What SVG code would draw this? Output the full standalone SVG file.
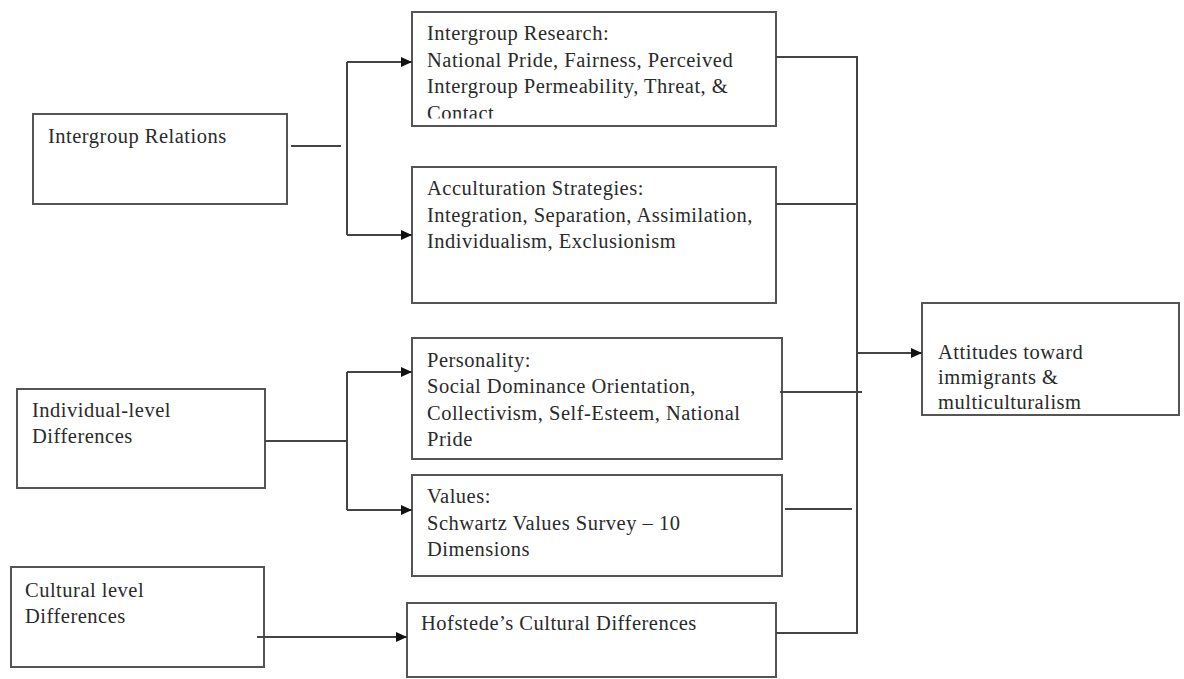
<svg xmlns="http://www.w3.org/2000/svg" width="1184" height="679" viewBox="0 0 1184 679">
<style>
.box{fill:#fff;stroke:#555;stroke-width:2}
.t{font-family:"Liberation Serif","Times New Roman",serif;font-size:20.5px;letter-spacing:0.5px;fill:#2a2a2a}
.c{fill:none;stroke:#444;stroke-width:2}
</style>
<defs>
<marker id="arr" markerUnits="userSpaceOnUse" markerWidth="11" markerHeight="10" refX="11" refY="5" orient="auto">
<path d="M0,0 L11,5 L0,10 z" fill="#111"/>
</marker>
<clipPath id="clipIR"><rect x="412" y="12" width="364" height="106.5"/></clipPath>
</defs>
<rect width="1184" height="679" fill="#fff"/>

<g id="intergroup-relations">
<rect class="box" x="33" y="114" width="254" height="90"/>
<text class="t" x="48" y="143">Intergroup Relations</text>
</g>

<g id="intergroup-research">
<rect class="box" x="412" y="12" width="364" height="114"/>
<text class="t" clip-path="url(#clipIR)"><tspan x="427" y="40">Intergroup Research:</tspan><tspan x="427" y="67">National Pride, Fairness, Perceived</tspan><tspan x="427" y="93">Intergroup Permeability, Threat, &amp;</tspan><tspan x="427" y="120">Contact</tspan></text>
</g>

<g id="acculturation">
<rect class="box" x="412" y="167" width="364" height="136"/>
<text class="t"><tspan x="427" y="195">Acculturation Strategies:</tspan><tspan x="427" y="222">Integration, Separation, Assimilation,</tspan><tspan x="427" y="248">Individualism, Exclusionism</tspan></text>
</g>

<g id="individual-level">
<rect class="box" x="17" y="389" width="248" height="99"/>
<text class="t"><tspan x="32" y="417">Individual-level</tspan><tspan x="32" y="443">Differences</tspan></text>
</g>

<g id="personality">
<rect class="box" x="412" y="338" width="370" height="121"/>
<text class="t"><tspan x="427" y="367">Personality:</tspan><tspan x="427" y="393">Social Dominance Orientation,</tspan><tspan x="427" y="420">Collectivism, Self-Esteem, National</tspan><tspan x="427" y="446">Pride</tspan></text>
</g>

<g id="values">
<rect class="box" x="412" y="475" width="370" height="101"/>
<text class="t"><tspan x="427" y="503">Values:</tspan><tspan x="427" y="530">Schwartz Values Survey – 10</tspan><tspan x="427" y="556">Dimensions</tspan></text>
</g>

<g id="cultural-level">
<rect class="box" x="11" y="567" width="253" height="100"/>
<text class="t"><tspan x="25" y="597">Cultural level</tspan><tspan x="25" y="623">Differences</tspan></text>
</g>

<g id="hofstede">
<rect class="box" x="407" y="603" width="369" height="74"/>
<text class="t" x="421" y="630">Hofstede’s Cultural Differences</text>
</g>

<g id="attitudes">
<rect class="box" x="922" y="303" width="257" height="112"/>
<text class="t"><tspan x="938" y="359">Attitudes toward</tspan><tspan x="938" y="384">immigrants &amp;</tspan><tspan x="938" y="409">multiculturalism</tspan></text>
</g>

<g id="connectors">
<path class="c" d="M291,146 H341"/>
<path class="c" d="M347,62 V235"/>
<path class="c" d="M347,62 H412" marker-end="url(#arr)"/>
<path class="c" d="M347,235 H412" marker-end="url(#arr)"/>
<path class="c" d="M265,441 H347"/>
<path class="c" d="M347,372 V510"/>
<path class="c" d="M347,372 H412" marker-end="url(#arr)"/>
<path class="c" d="M347,510 H412" marker-end="url(#arr)"/>
<path class="c" d="M257,637 H407" marker-end="url(#arr)"/>
<path class="c" d="M776,57 H857 V633 H776"/>
<path class="c" d="M776,204 H857"/>
<path class="c" d="M780,392 H862"/>
<path class="c" d="M785,509 H852"/>
<path class="c" d="M857,353 H922" marker-end="url(#arr)"/>
</g>
</svg>
